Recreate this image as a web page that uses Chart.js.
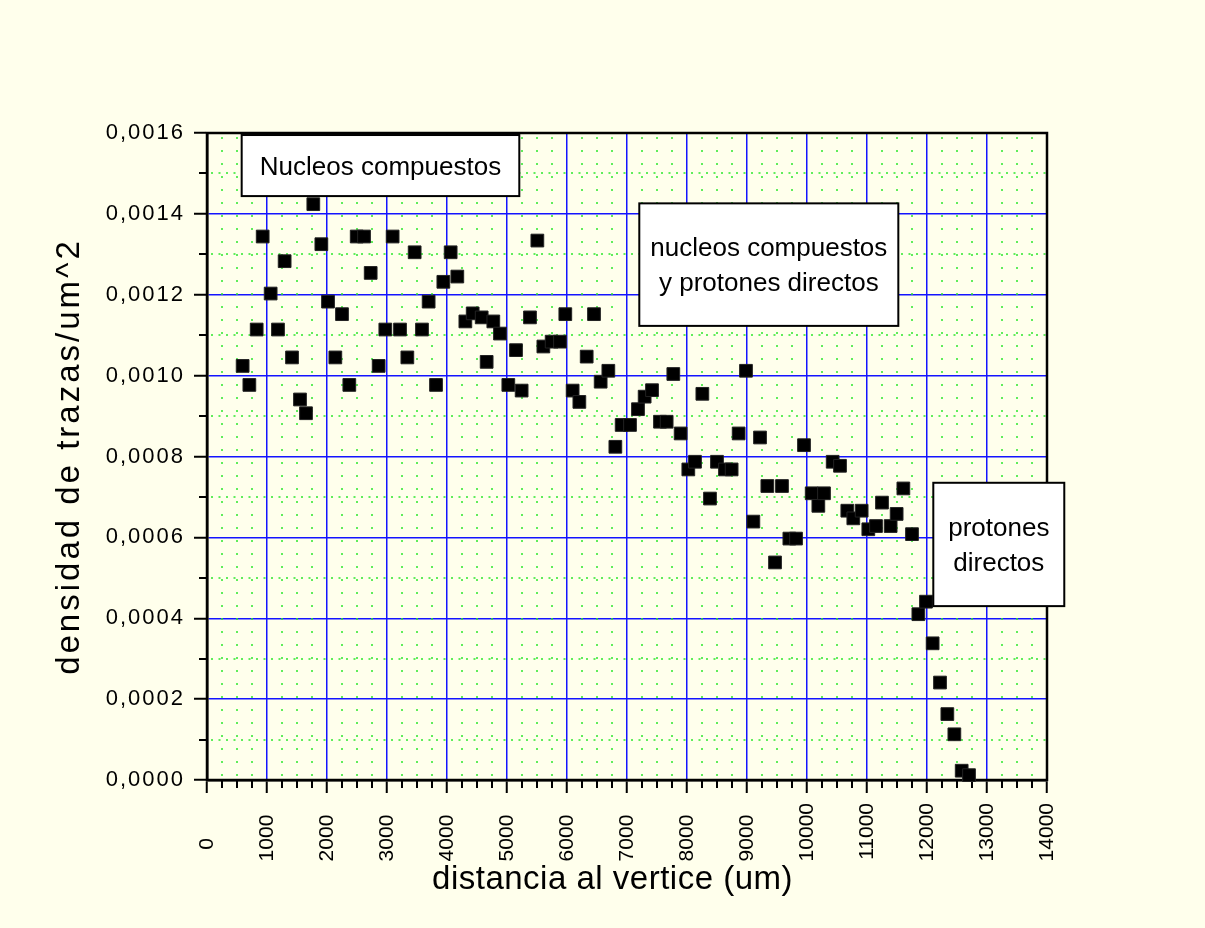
<!DOCTYPE html>
<html>
<head>
<meta charset="utf-8">
<script src="https://cdn.jsdelivr.net/npm/chart.js@4.4.0/dist/chart.umd.min.js"></script>
<style>
html, body { margin: 0; padding: 0; background: #ffffec; }
canvas { display: block; }
</style>
</head>
<body>
<canvas id="myChart" width="1205" height="928"></canvas>
<script>
// distancia al vertice (um)
var distancia = [594, 706, 828, 928, 1061, 1183, 1294, 1417, 1550, 1650,
    1772, 1906, 2017, 2139, 2250, 2372, 2495, 2617, 2728, 2861,
    2972, 3094, 3217, 3339, 3461, 3583, 3694, 3817, 3939, 4061,
    4172, 4306, 4428, 4578, 4661, 4772, 4883, 5022, 5150, 5244,
    5383, 5506, 5606, 5744, 5883, 5972, 6094, 6206, 6328, 6450,
    6561, 6689, 6806, 6911, 7050, 7183, 7294, 7417, 7550, 7661,
    7772, 7894, 8022, 8133, 8256, 8383, 8500, 8633, 8744, 8861,
    8983, 9106, 9217, 9339, 9467, 9583, 9706, 9817, 9950, 10078,
    10189, 10283, 10428, 10550, 10672, 10772, 10911, 11022, 11150, 11250,
    11394, 11494, 11606, 11750, 11856, 11983, 12094, 12217, 12339, 12456,
    12578, 12700];
// densidad de trazas/um^2
var densidad = [0.001024, 0.000977, 0.001114, 0.001344, 0.001203, 0.001114, 0.001283, 0.001045, 0.000941, 0.000907,
    0.001424, 0.001325, 0.001183, 0.001045, 0.001152, 0.000977, 0.001344, 0.001344, 0.001254, 0.001024,
    0.001114, 0.001344, 0.001114, 0.001045, 0.001305, 0.001114, 0.001183, 0.000977, 0.001232, 0.001305,
    0.001245, 0.001134, 0.001154, 0.001144, 0.001034, 0.001134, 0.001104, 0.000977, 0.001063, 0.000963,
    0.001144, 0.001334, 0.001072, 0.001084, 0.001084, 0.001152, 0.000963, 0.000935, 0.001047, 0.001152,
    0.000985, 0.001012, 0.000824, 0.000878, 0.000878, 0.000917, 0.000948, 0.000964, 0.000886, 0.000886,
    0.001004, 0.000857, 0.000768, 0.000787, 0.000955, 0.000696, 0.000787, 0.000768, 0.000768, 0.000857,
    0.001012, 0.000639, 0.000847, 0.000727, 0.000538, 0.000727, 0.000597, 0.000597, 0.000828, 0.000709,
    0.000678, 0.000709, 0.000787, 0.000777, 0.000666, 0.000647, 0.000666, 0.000620, 0.000628, 0.000686,
    0.000628, 0.000658, 0.000721, 0.000608, 0.000410, 0.000441, 0.000338, 0.000241, 0.000163, 0.000113,
    0.000023, 0.000012];

var xTickValues = [0, 1000, 2000, 3000, 4000, 5000, 6000, 7000, 8000, 9000, 10000, 11000, 12000, 13000, 14000];
var xTickLabels = ['0', '1000', '2000', '3000', '4000', '5000', '6000', '7000', '8000', '9000', '10000', '11000', '12000', '13000', '14000'];
var yTickValues = [0, 0.0002, 0.0004, 0.0006, 0.0008, 0.0010, 0.0012, 0.0014, 0.0016];
var yTickLabels = ['0,0000', '0,0002', '0,0004', '0,0006', '0,0008', '0,0010', '0,0012', '0,0014', '0,0016'];

// text boxes, corners in data units
var notas = [
    {lines: ['Nucleos compuestos'], x0: 578, x1: 5205, y0: 0.001444, y1: 0.001595},
    {lines: ['nucleos compuestos', 'y protones directos'], x0: 7205, x1: 11522, y0: 0.001123, y1: 0.001426},
    {lines: ['protones', 'directos'], x0: 12105, x1: 14288, y0: 0.000430, y1: 0.000735}
];

var FONT = "'Liberation Sans', Arial, sans-serif";

var puntos = distancia.map(function(d, i) { return {x: d, y: densidad[i]}; });

// wider letter spacing on some axis texts (Origin look)
var spaced = function(scale, labelSp, titleSp) {
    if (scale._spaced) return;
    scale._spaced = true;
    var dl = scale.drawLabels, dt = scale.drawTitle;
    scale.drawLabels = function(a) { this.ctx.letterSpacing = labelSp; dl.call(this, a); this.ctx.letterSpacing = '0px'; };
    scale.drawTitle = function() { this.ctx.letterSpacing = titleSp; dt.call(this); this.ctx.letterSpacing = '0px'; };
}

var minorGrid = {
    id: 'minorGrid',
    beforeDatasetsDraw: function(chart) {
        var ctx = chart.ctx, a = chart.chartArea, x = chart.scales.x, y = chart.scales.y;
        var i, p;
        ctx.save();
        ctx.strokeStyle = '#2de82d';
        ctx.lineWidth = 1.5;
        // vertical dotted, every 250
        ctx.setLineDash([2, 11]);
        for (i = 1; i < 56; i++) {
            if (i % 4 === 0) continue;
            p = Math.round(x.getPixelForValue(i * 250));
            ctx.beginPath(); ctx.moveTo(p, a.bottom - 4); ctx.lineTo(p, a.top); ctx.stroke();
        }
        // horizontal dotted, every 0.0001
        ctx.setLineDash([2, 5.5]);
        for (i = 1; i < 16; i += 2) {
            p = Math.round(y.getPixelForValue(i * 0.0001));
            ctx.beginPath(); ctx.moveTo(a.left + 4, p); ctx.lineTo(a.right, p); ctx.stroke();
        }
        // minor ticks
        ctx.setLineDash([]);
        ctx.strokeStyle = '#000';
        ctx.lineWidth = 2;
        for (i = 1; i < 56; i++) {
            if (i % 4 === 0) continue;
            p = Math.round(x.getPixelForValue(i * 250));
            ctx.beginPath(); ctx.moveTo(p, a.bottom); ctx.lineTo(p, a.bottom + 8); ctx.stroke();
        }
        for (i = 1; i < 16; i += 2) {
            p = Math.round(y.getPixelForValue(i * 0.0001));
            ctx.beginPath(); ctx.moveTo(a.left, p); ctx.lineTo(a.left - 8, p); ctx.stroke();
        }
        // frame
        ctx.lineWidth = 2.5;
        ctx.strokeRect(a.left, a.top, a.right - a.left, a.bottom - a.top);
        ctx.restore();
    }
};

var cajas = {
    id: 'cajas',
    afterDraw: function(chart) {
        var ctx = chart.ctx, x = chart.scales.x, y = chart.scales.y;
        ctx.save();
        ctx.font = '26px ' + FONT;
        ctx.textAlign = 'center';
        ctx.textBaseline = 'alphabetic';
        notas.forEach(function(n) {
            var l = x.getPixelForValue(n.x0), r = x.getPixelForValue(n.x1);
            var t = y.getPixelForValue(n.y1), b = y.getPixelForValue(n.y0);
            ctx.fillStyle = '#ffffff';
            ctx.fillRect(l, t, r - l, b - t);
            ctx.strokeStyle = '#000';
            ctx.lineWidth = 2;
            ctx.strokeRect(l, t, r - l, b - t);
            ctx.fillStyle = '#000';
            var cx = (l + r) / 2, cy = (t + b) / 2;
            n.lines.forEach(function(s, k) {
                ctx.fillText(s, cx, cy + (k - (n.lines.length - 1) / 2) * 35 + 9);
            });
        });
        ctx.restore();
    }
};

var ctx = document.getElementById('myChart');
var myChart = new Chart(ctx, {
    type: 'scatter',
    data: {
        datasets: [{
            label: 'densidad',
            data: puntos,
            pointStyle: 'rect',
            pointRadius: 9,
            backgroundColor: '#000',
            borderColor: '#222',
            borderWidth: 1,
            clip: false
        }]
    },
    options: {
        responsive: false,
        animation: false,
        devicePixelRatio: 1,
        layout: {padding: {top: 133, right: 158, left: 0, bottom: 0}},
        plugins: {legend: {display: false}, tooltip: {enabled: false}},
        scales: {
            x: {
                type: 'linear',
                min: 0,
                max: 14000,
                afterBuildTicks: function(s) { s.ticks = xTickValues.map(function(v) { return {value: v}; }); },
                afterFit: function(s) { s.height = 148; spaced(s, '0px', '0.5px'); },
                grid: {color: '#1414ff', lineWidth: 1.5, tickLength: 13, tickColor: '#000', tickWidth: 2},
                border: {color: '#000', width: 2.5},
                ticks: {
                    autoSkip: false, minRotation: 90, maxRotation: 90, padding: 10, color: '#000',
                    font: {family: FONT, size: 21},
                    callback: function(v, i) {
                        var s = xTickLabels[i];
                        return s + ' '.repeat(Math.round((5 - s.length) * 1.5));
                    }
                },
                title: {display: true, text: 'distancia al vertice (um)   ', color: '#000',
                    font: {family: FONT, size: 33}, padding: {top: 0, bottom: 28}}
            },
            y: {
                min: 0,
                max: 0.0016,
                afterBuildTicks: function(s) { s.ticks = yTickValues.map(function(v) { return {value: v}; }); },
                afterFit: function(s) { s.width = 207; spaced(s, '2px', '3px'); },
                grid: {color: '#1414ff', lineWidth: 1.5, tickLength: 13, tickColor: '#000', tickWidth: 2},
                border: {color: '#000', width: 2.5},
                ticks: {
                    autoSkip: false, padding: 9, color: '#000',
                    font: {family: FONT, size: 22},
                    callback: function(v, i) { return yTickLabels[i]; }
                },
                title: {display: true, text: 'densidad de trazas/um^2', color: '#000',
                    font: {family: FONT, size: 33}, padding: {top: 50, bottom: 0}}
            }
        }
    },
    plugins: [minorGrid, cajas]
});
</script>
</body>
</html>
